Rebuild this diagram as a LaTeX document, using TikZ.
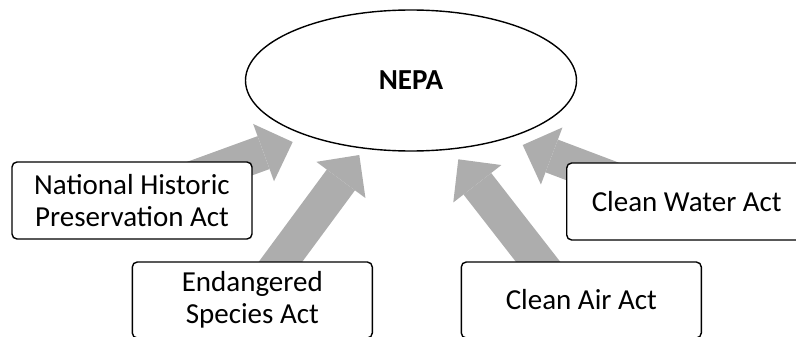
\documentclass[tikz,border=0pt]{standalone}
\usepackage{fontspec}
\setmainfont{Carlito}
\usetikzlibrary{arrows.meta,shapes.geometric}
\definecolor{arrowgray}{RGB}{173,173,173}
\pgfdeclarelayer{background}
\pgfsetlayers{background,main}
\begin{document}
\begin{tikzpicture}[x=1pt,y=-1pt,
  actbox/.style={draw=black, line width=1.4pt, rounded corners=5pt, fill=white,
    align=center, font=\fontsize{29}{32.3}\selectfont, inner sep=0pt,
    minimum width=240pt},
  nepaell/.style={draw=black, line width=1.4pt, ellipse, fill=white, inner sep=0pt,
    minimum width=331pt, minimum height=141pt, font=\fontsize{29}{32}\selectfont\bfseries},
  bigarrow/.style={draw=arrowgray, line width=35pt,
    -{Triangle[length=31pt,width=61pt,line width=0pt]}}]
\useasboundingbox (0,0) rectangle (796,337);
\clip (0,0) rectangle (796,337);
% central ellipse
\node[nepaell] (nepa) at (411,80.5) {NEPA};
% act boxes
\node[actbox, minimum height=77pt] (nhpa) at (132,200.5) {National Historic\\Preservation Act};
\node[actbox, minimum height=76pt] (esa) at (252.3,300) {Endangered\\Species Act};
\node[actbox, minimum height=76pt] (air) at (581.3,300) {Clean Air Act};
\node[actbox, minimum height=77pt] (cw) at (686.7,201.5) {Clean Water Act};
% arrow end points
\coordinate (tip1) at (292.7,142);
\coordinate (tip2) at (359.3,155);
\coordinate (tip3) at (458.3,159.3);
\coordinate (tail3) at (567.8,300);
\coordinate (tip4) at (522.7,145);
\coordinate (tail4) at (686.7,207);
\begin{pgfonlayer}{background}
\draw[bigarrow] (nhpa.center) -- (tip1);
\draw[bigarrow] (esa.center) -- (tip2);
\draw[bigarrow] (tail3) -- (tip3);
\draw[bigarrow] (tail4) -- (tip4);
\end{pgfonlayer}
\end{tikzpicture}
\end{document}
